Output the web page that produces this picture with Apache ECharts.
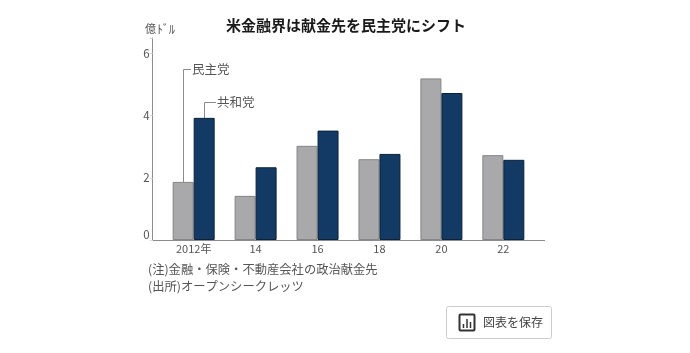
<!DOCTYPE html>
<html>
<head>
<meta charset="utf-8">
<script src="https://cdn.jsdelivr.net/npm/echarts@6/dist/echarts.min.js"></script>
<style>
  html, body { margin: 0; padding: 0; background: #fff; }
  #main { width: 690px; height: 353px; }
</style>
</head>
<body>
<div id="main"></div>
<script>
var categories = ['2012年', '14', '16', '18', '20', '22'];
var demValues = [1.87, 1.42, 3.03, 2.6, 5.2, 2.73];
var repValues = [3.93, 2.34, 3.52, 2.77, 4.73, 2.58];
var yTicks = [0, 2, 4, 6];
var titleText = '米金融界は献金先を民主党にシフト';
var noteLines = ['(注)金融・保険・不動産会社の政治献金先', '(出所)オープンシークレッツ'];

var font = '"Noto Sans CJK JP", sans-serif';
var textColor = '#555';
var lineColor = '#8c8c8c';

var chart = echarts.init(document.getElementById('main'), null, { renderer: 'canvas' });

function line(x1, y1, x2, y2, color, width) {
  return {
    type: 'line',
    shape: { x1: x1, y1: y1, x2: x2, y2: y2 },
    style: { stroke: color || lineColor, lineWidth: width || 1 },
    silent: true
  };
}

function label(x, y, str, size, color, align) {
  return {
    type: 'text',
    x: x,
    y: y,
    style: {
      text: str,
      font: size + 'px ' + font,
      fill: color || textColor,
      align: align || 'left',
      verticalAlign: 'middle'
    },
    silent: true
  };
}

var option = {
  animation: false,
  backgroundColor: '#fff',
  title: {
    text: titleText,
    left: 345.5,
    top: 13,
    textAlign: 'center',
    textStyle: { fontFamily: font, fontSize: 15, fontWeight: 700, color: '#1a1a1a' }
  },
  grid: { left: 162.7, right: 155.7, top: 38, bottom: 113 },
  xAxis: {
    type: 'category',
    data: categories,
    axisLine: { show: false },
    axisTick: { show: false },
    axisLabel: { fontFamily: font, fontSize: 11, color: textColor, margin: 3 }
  },
  yAxis: {
    type: 'value',
    min: 0,
    max: 6.5,
    interval: 2,
    offset: 10,
    splitLine: { show: false },
    axisLine: { show: true, lineStyle: { color: lineColor, width: 1 } },
    axisTick: { show: true, length: 3, inside: false, lineStyle: { color: '#ddd' } },
    axisLabel: {
      fontFamily: font,
      fontSize: 11.5,
      color: textColor,
      margin: 3,
      // the 0 sits above the baseline in the original
      formatter: function (v) {
        if (v === 0) return '{zero|0}';
        return yTicks.indexOf(v) >= 0 ? String(v) : '';
      },
      rich: {
        zero: { fontFamily: font, fontSize: 11.5, color: textColor, padding: [0, 0, 10, 0] }
      }
    }
  },
  series: [
    {
      name: '民主党',
      type: 'bar',
      data: demValues,
      barWidth: 21,
      barGap: 0,
      itemStyle: { color: '#a9a9ab', borderColor: '#858585', borderWidth: 1 }
    },
    {
      name: '共和党',
      type: 'bar',
      data: repValues,
      barWidth: 21,
      barGap: 0,
      itemStyle: { color: '#133a64', borderColor: '#0c2238', borderWidth: 1 }
    }
  ],
  graphic: [
    // baseline runs wider than the category bands
    line(153, 240.5, 545, 240.5),
    // leader lines
    line(183.5, 69.5, 183.5, 182),
    line(183.5, 69.5, 191, 69.5),
    line(204.5, 102.5, 204.5, 118),
    line(204.5, 102.5, 216, 102.5),
    label(192, 69, '民主党', 12.5),
    label(217, 102, '共和党', 12.5),
    // unit
    label(145, 29, '億', 11),
    label(157, 29, 'ﾄﾞﾙ', 12),
    // notes
    label(148, 269, noteLines[0], 12.3),
    label(148, 286, noteLines[1], 12.3),
    // save button
    {
      type: 'rect',
      shape: { x: 446.5, y: 306.5, width: 105, height: 32, r: 2 },
      style: { fill: '#fff', stroke: '#ccc', lineWidth: 1 },
      silent: true
    },
    {
      type: 'rect',
      shape: { x: 459.5, y: 314.5, width: 15, height: 16, r: 1 },
      style: { fill: 'none', stroke: '#333', lineWidth: 2 },
      silent: true
    },
    line(463.5, 324, 463.5, 328, '#333', 1.5),
    line(467, 319, 467, 328, '#333', 1.5),
    line(470.5, 322, 470.5, 328, '#333', 1.5),
    label(483, 322, '図表を保存', 12, '#444')
  ]
};

// title sits a little left of the plot centre in the original
option.title.left = 341;

chart.setOption(option);
</script>
</body>
</html>
